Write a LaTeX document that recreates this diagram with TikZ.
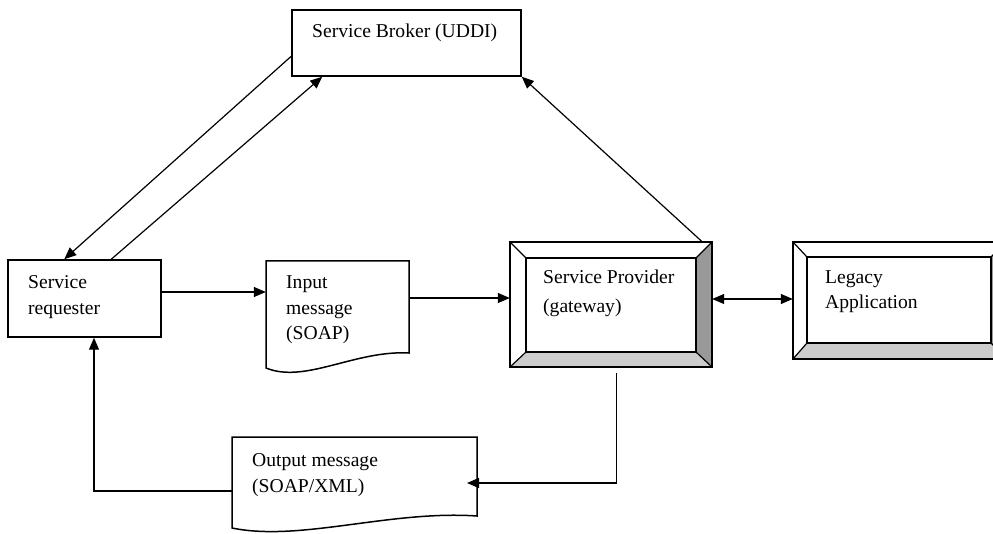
\documentclass[tikz,border=0pt]{standalone}
\usepackage{fontspec}
\setmainfont{Liberation Serif}
\usetikzlibrary{arrows.meta,calc}
\definecolor{bevdark}{HTML}{999999}
\definecolor{bevlight}{HTML}{CCCCCC}
\tikzset{
  box/.style={draw=black,line width=1.5pt,rectangle,inner sep=0pt},
  ghost/.style={rectangle,inner sep=0pt,draw=none},
  txt/.style={anchor=base west,inner sep=0pt,font=\fontsize{19.6}{24}\selectfont},
  conn/.style={line width=1.2pt,-{Triangle[length=12pt,width=10pt]}},
  conn2/.style={line width=1.2pt,{Triangle[length=12pt,width=10pt]}-{Triangle[length=12pt,width=10pt]}},
  edge/.style={line width=1.5pt,line join=miter}
}
\begin{document}
\begin{tikzpicture}[x=1pt,y=-1pt]
\useasboundingbox (0,0) rectangle (993,534);
\clip (0,0) rectangle (993,534);
\fill[white] (0,0) rectangle (993,534);

% Service Broker
\node[box,minimum width=229pt,minimum height=66pt] (broker) at (406.5,43) {};
\node[txt] (brokerT) at (312,38) {Service Broker (UDDI)};

% Service requester
\node[box,minimum width=153pt,minimum height=77pt] (req) at (84.5,298.5) {};
\node[txt] (reqT1) at (28,289) {Service};
\node[txt] (reqT2) at (28,315) {requester};

% Input message (document shape)
\node[ghost,minimum width=143pt,minimum height=107pt] (inp) at (337.5,314.5) {};
\coordinate (inpNW) at (266,261);
\coordinate (inpNE) at (409,261);
\coordinate (inpSE) at (409,353);
\coordinate (inpSW) at (266,368);
\draw[edge,fill=white] (inpSW) -- (inpNW) -- (inpNE) -- (inpSE)
  .. controls (355,350) and (305,384) .. (inpSW) -- cycle;
\node[txt] (inpT1) at (286,289) {Input};
\node[txt] (inpT2) at (286,315) {message};
\node[txt] (inpT3) at (286,340) {(SOAP)};

% Output message (document shape)
\node[ghost,minimum width=245pt,minimum height=96pt] (outp) at (354.5,485) {};
\coordinate (outNW) at (232,437);
\coordinate (outNE) at (477,437);
\coordinate (outSE) at (477,516);
\coordinate (outSW) at (232,528);
\draw[edge,fill=white] (outSW) -- (outNW) -- (outNE) -- (outSE)
  .. controls (390,510) and (300,542) .. (outSW) -- cycle;
\node[txt] (outT1) at (252,466) {Output message};
\node[txt] (outT2) at (252,492) {(SOAP/XML)};

% Service Provider (bevel box)
\node[ghost,minimum width=202pt,minimum height=125pt] (prov) at (611,304.5) {};
\node[ghost,minimum width=170pt,minimum height=94pt] (provI) at (611,305) {};
\fill[white] (prov.north west) -- (prov.north east) -- (provI.north east) -- (provI.north west) -- cycle;
\fill[white] (prov.north west) -- (provI.north west) -- (provI.south west) -- (prov.south west) -- cycle;
\fill[bevdark] (prov.north east) -- (prov.south east) -- (provI.south east) -- (provI.north east) -- cycle;
\fill[bevlight] (prov.south west) -- (prov.south east) -- (provI.south east) -- (provI.south west) -- cycle;
\fill[white] (provI.north west) rectangle (provI.south east);
\draw[edge] (prov.north west) rectangle (prov.south east);
\draw[edge] (provI.north west) rectangle (provI.south east);
\draw[line width=1.2pt] (prov.north west) -- (provI.north west)
  (prov.north east) -- (provI.north east)
  (prov.south east) -- (provI.south east)
  (prov.south west) -- (provI.south west);
\node[txt] (provT1) at (543,284) {Service Provider};
\node[txt] (provT2) at (543,313) {(gateway)};

% Legacy Application (bevel box, cut at right)
\node[ghost,minimum width=213pt,minimum height=117pt] (leg) at (899.5,300.5) {};
\node[ghost,minimum width=184pt,minimum height=86pt] (legI) at (899,300) {};
\fill[white] (leg.north west) -- (leg.north east) -- (legI.north east) -- (legI.north west) -- cycle;
\fill[white] (leg.north west) -- (legI.north west) -- (legI.south west) -- (leg.south west) -- cycle;
\fill[bevdark] (leg.north east) -- (leg.south east) -- (legI.south east) -- (legI.north east) -- cycle;
\fill[bevlight] (leg.south west) -- (leg.south east) -- (legI.south east) -- (legI.south west) -- cycle;
\fill[white] (legI.north west) rectangle (legI.south east);
\draw[edge] (leg.north west) rectangle (leg.south east);
\draw[edge] (legI.north west) rectangle (legI.south east);
\draw[line width=1.2pt] (leg.north west) -- (legI.north west)
  (leg.north east) -- (legI.north east)
  (leg.south east) -- (legI.south east)
  (leg.south west) -- (legI.south west);
\node[txt] (legT1) at (825,284) {Legacy};
\node[txt] (legT2) at (825,309) {Application};

% Connectors
\draw[conn] (req.east |- 0,292) -- (inp.west |- 0,292);
\draw[conn] (inpNE |- 0,298) -- (prov.west |- 0,298);
\draw[conn2] (prov.east |- 0,299) -- (leg.west |- 0,299);
\draw[conn] ($(prov.north east)+(-10,0)$) -- (broker.south east);
\draw[conn] ($(broker.north west)+(0,47)$) -- ($(req.north west)+(57,0)$);
\draw[conn] ($(req.north west)+(104,0)$) -- ($(broker.south west)+(31,0)$);
\coordinate (provDown) at ($(prov.south west)+(107,6)$);
\draw[line width=1.2pt,-{Triangle[length=12pt,width=10pt]}] (provDown) |- ($(outNE)+(-10,46)$);
\draw[conn] (outNW |- 0,491) -| (req.south -| 94,0);
\end{tikzpicture}
\end{document}
